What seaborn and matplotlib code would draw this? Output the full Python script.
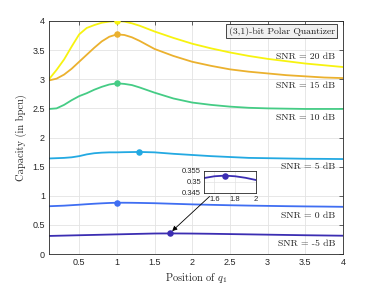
import matplotlib
matplotlib.use("Agg")
import matplotlib.pyplot as plt
import seaborn as sns
import numpy as np

# ---- data ----
x_pos = [0.1, 0.2, 0.3, 0.4, 0.5, 0.6, 0.7, 0.8, 0.9, 1.0, 1.1, 1.2, 1.3,
         1.5, 1.75, 2.0, 2.25, 2.5, 2.75, 3.0, 3.25, 3.5, 3.75, 4.0]
cap_20 = [3.00, 3.16, 3.34, 3.56, 3.77, 3.88, 3.93, 3.97, 3.99, 4.00, 3.99, 3.96, 3.92,
          3.82, 3.71, 3.61, 3.53, 3.46, 3.40, 3.35, 3.31, 3.27, 3.24, 3.21]
cap_15 = [2.98, 3.01, 3.08, 3.18, 3.30, 3.42, 3.54, 3.65, 3.73, 3.77, 3.76, 3.72, 3.66,
          3.52, 3.40, 3.30, 3.23, 3.17, 3.13, 3.10, 3.07, 3.05, 3.03, 3.02]
cap_10 = [2.49, 2.50, 2.56, 2.64, 2.71, 2.76, 2.82, 2.87, 2.91, 2.93, 2.92, 2.90, 2.86,
          2.77, 2.67, 2.60, 2.56, 2.53, 2.51, 2.50, 2.495, 2.49, 2.49, 2.49]
cap_5 = [1.64, 1.645, 1.65, 1.66, 1.68, 1.71, 1.73, 1.74, 1.745, 1.745, 1.748, 1.75, 1.752,
         1.745, 1.72, 1.70, 1.68, 1.665, 1.65, 1.645, 1.64, 1.635, 1.633, 1.63]
cap_0 = [0.82, 0.825, 0.83, 0.838, 0.846, 0.855, 0.863, 0.87, 0.876, 0.880, 0.880, 0.879, 0.877,
         0.872, 0.862, 0.852, 0.844, 0.837, 0.831, 0.826, 0.821, 0.817, 0.814, 0.81]
x_m5 = [0.1, 0.3, 0.5, 0.7, 0.9, 1.0, 1.1, 1.2, 1.3, 1.4, 1.5, 1.6, 1.7, 1.8, 1.9, 2.0,
        2.25, 2.5, 2.75, 3.0, 3.25, 3.5, 3.75, 4.0]
cap_m5 = [0.310, 0.316, 0.322, 0.328, 0.334, 0.337, 0.340, 0.343, 0.346, 0.349, 0.3518,
          0.3526, 0.3529, 0.3526, 0.3519, 0.3509, 0.347, 0.342, 0.337, 0.332, 0.327, 0.322,
          0.318, 0.314]

snr_labels = ["SNR = 20 dB", "SNR = 15 dB", "SNR = 10 dB", "SNR = 5 dB", "SNR = 0 dB", "SNR = -5 dB"]
label_y = [3.38, 2.88, 2.33, 1.49, 0.65, 0.17]
peak_x = [1.0, 1.0, 1.0, 1.3, 1.0, 1.7]
peak_y = [4.00, 3.77, 2.93, 1.752, 0.880, 0.3529]
colors = ["#F7F30F", "#EBB12E", "#45CC85", "#23A9E2", "#3F6EF2", "#3B2DB2"]
title_text = "(3,1)-bit Polar Quantizer"
x_ticks = [0.5, 1, 1.5, 2, 2.5, 3, 3.5, 4]
y_ticks = [0, 0.5, 1, 1.5, 2, 2.5, 3, 3.5, 4]

sns.set_theme(style="white")
plt.rcParams["mathtext.fontset"] = "cm"
plt.rcParams["axes.formatter.use_mathtext"] = False
tick_font = "Liberation Sans"
serif = "cmr10"

fig = plt.figure(figsize=(3.79, 2.85), dpi=100)
ax = fig.add_axes([49 / 379, 1 - 254 / 285, 294 / 379, 233 / 285])

xs_list = [x_pos, x_pos, x_pos, x_pos, x_pos, x_m5]
ys_list = [cap_20, cap_15, cap_10, cap_5, cap_0, cap_m5]
for xs, ys, c, px, py in zip(xs_list, ys_list, colors, peak_x, peak_y):
    sns.lineplot(x=xs, y=ys, color=c, linewidth=1.3, ax=ax, sort=False)
    sns.scatterplot(x=[px], y=[py], color=c, s=22, linewidth=0, ax=ax, zorder=5)

ax.set_xlim(0.1, 4)
ax.set_ylim(0, 4)
ax.set_xticks(x_ticks)
ax.set_xticklabels([f"{t:g}" for t in x_ticks])
ax.set_yticks(y_ticks)
ax.set_yticklabels([f"{t:g}" for t in y_ticks])
ax.grid(True, color="#e3e3e3", linewidth=0.6)
ax.tick_params(direction="in", length=3, width=0.5, colors="#262626", labelsize=6.5,
               top=True, right=True, pad=3)
for lab in ax.get_xticklabels() + ax.get_yticklabels():
    lab.set_fontfamily(tick_font)
for sp in ax.spines.values():
    sp.set_color("#262626")
    sp.set_linewidth(0.6)

ax.set_xlabel(r"Position of $q_1$", fontfamily=serif, fontsize=7.5, color="#262626", labelpad=3)
ax.set_ylabel("Capacity (in bpcu)", fontfamily=serif, fontsize=7.5, color="#262626", labelpad=4)

for t, yv in zip(snr_labels, label_y):
    ax.text(3.9, yv, t, ha="right", va="center", fontfamily=serif, fontsize=7, color="#202020")

ax.text(0.791, 0.957, title_text, transform=ax.transAxes, ha="center", va="center",
        fontfamily=serif, fontsize=7, color="#202020",
        bbox=dict(boxstyle="square,pad=0.3", facecolor="#f0f0f0", edgecolor="#262626", linewidth=0.6))

ax.annotate("", xy=(1.7, 0.3529), xycoords="data", xytext=(0.553, 0.255), textcoords="axes fraction",
            arrowprops=dict(arrowstyle="-|>", color="black", lw=0.6, mutation_scale=7, shrinkB=2.5))

# inset
ins = fig.add_axes([204 / 379, 1 - 193 / 285, 52 / 379, 22 / 285])
sns.lineplot(x=x_m5, y=cap_m5, color=colors[5], linewidth=1.3, ax=ins, sort=False)
sns.scatterplot(x=[peak_x[5]], y=[peak_y[5]], color=colors[5], s=22, linewidth=0, ax=ins, zorder=5)
ins.set_xlim(1.5, 2)
ins.set_ylim(0.345, 0.355)
ins.set_xticks([1.6, 1.8, 2])
ins.set_xticklabels(["1.6", "1.8", "2"])
ins.set_yticks([0.345, 0.35, 0.355])
ins.set_yticklabels(["0.345", "0.35", "0.355"])
ins.grid(True, color="#e3e3e3", linewidth=0.5)
ins.tick_params(direction="in", length=2, width=0.5, colors="#262626", labelsize=5.5, pad=2)
for lab in ins.get_xticklabels() + ins.get_yticklabels():
    lab.set_fontfamily(tick_font)
for sp in ins.spines.values():
    sp.set_color("#262626")
    sp.set_linewidth(0.6)
ins.set_xlabel("")
ins.set_ylabel("")

fig.savefig("out.png", dpi=100)
